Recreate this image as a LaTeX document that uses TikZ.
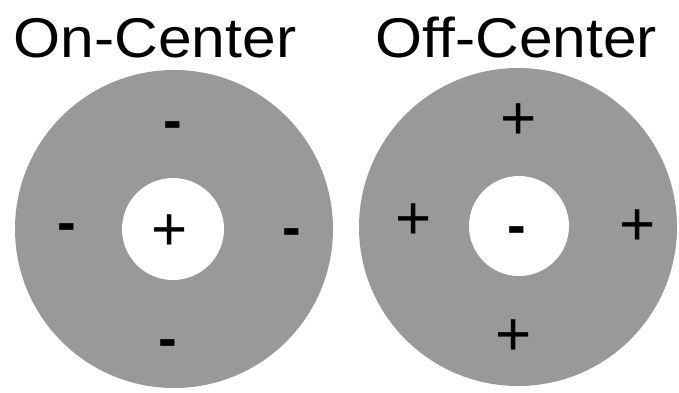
\documentclass[tikz,border=0pt]{standalone}
\usepackage{graphicx}
\usepackage{fontspec}
\setmainfont{Liberation Sans}
\definecolor{ring}{RGB}{153,153,153}
\begin{document}
\begin{tikzpicture}[x=1pt,y=-1pt,
  title/.style={anchor=base,inner sep=0pt,font=\fontsize{56}{56}\selectfont},
  minus/.style={anchor=base,inner sep=0pt,font=\bfseries\fontsize{56}{56}\selectfont},
  plus/.style={anchor=base,inner sep=0pt,font=\fontsize{62}{62}\selectfont},
  outer/.style={circle,fill=ring,inner sep=0pt},
  inner/.style={circle,fill=white,inner sep=0pt}]
\useasboundingbox (0,0) rectangle (679,392);
\node[title] (t1) at (155,57) {\scalebox{1.08}[1]{On-Center}};
\node[title] (t2) at (516.5,57) {\scalebox{1.08}[1]{Off-Center}};
% on-center
\node[outer,minimum size=318pt] (o1) at (174,229) {};
\node[inner,minimum size=102pt] (i1) at (173,229) {};
\node[plus] (c1) at (170,250) {+};
\node[minus] (n1) at (173,139) {-};
\node[minus] (n2) at (67,241) {-};
\node[minus] (n3) at (292,246) {-};
\node[minus] (n4) at (168,357) {-};
% off-center
\node[outer,minimum size=318pt] (o2) at (518,227) {};
\node[inner,minimum size=100pt] (i2) at (519,226) {};
\node[minus] (c2) at (517,244) {-};
\node[plus] (p1) at (519,139) {+};
\node[plus] (p2) at (414,239) {+};
\node[plus] (p3) at (638,245) {+};
\node[plus] (p4) at (514,355) {+};
\end{tikzpicture}
\end{document}
